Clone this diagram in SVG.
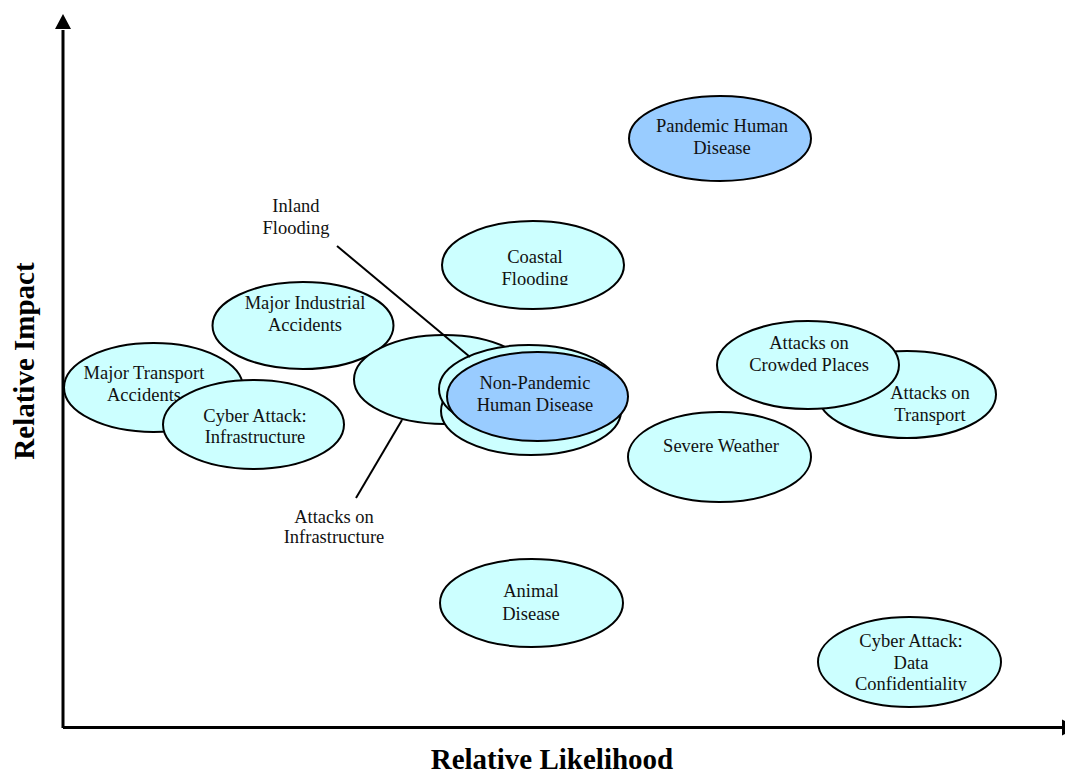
<svg xmlns="http://www.w3.org/2000/svg" width="1065" height="776" viewBox="0 0 1065 776">
<style>
.n{fill:#CCFFFF;stroke:#000;stroke-width:2}
.b{fill:#99CCFF;stroke:#000;stroke-width:2}
.t{font-family:"Liberation Serif","Times New Roman",serif;font-size:18.5px;fill:#111;text-anchor:middle}
.ax{font-family:"Liberation Serif","Times New Roman",serif;font-size:29px;font-weight:bold;fill:#000;text-anchor:middle}
.ln{stroke:#000;stroke-width:2;fill:none}
.axis{stroke:#000;stroke-width:3;fill:none}
</style>
<defs>
<clipPath id="cCoastal"><rect x="400" y="200" width="260" height="85"/></clipPath>
<clipPath id="cConf"><rect x="800" y="600" width="240" height="91"/></clipPath>
</defs>
<rect width="1065" height="776" fill="#fff"/>
<g id="axes">
<line class="axis" x1="63" y1="728" x2="63" y2="30"/>
<path d="M55,29 L63,14 L71,29 Z" fill="#000"/>
<line class="axis" x1="63" y1="727.5" x2="1062" y2="727.5"/>
<path d="M1062,719.5 L1077,727.5 L1062,735.5 Z" fill="#000"/>
<text class="ax" x="552" y="769">Relative Likelihood</text>
<text class="ax" transform="translate(34,361) rotate(-90)">Relative Impact</text>
</g>
<g id="pandemic"><ellipse class="b" cx="720" cy="138.5" rx="91" ry="42.5"/><text class="t" x="722" y="132">Pandemic Human</text><text class="t" x="722" y="154">Disease</text></g>
<g id="coastal"><ellipse class="n" cx="533" cy="265" rx="91" ry="44"/><g clip-path="url(#cCoastal)"><text class="t" x="535" y="263">Coastal</text><text class="t" x="535" y="285">Flooding</text></g></g>
<g id="industrial"><ellipse class="n" cx="303" cy="325.5" rx="90.5" ry="43.5"/><text class="t" x="305" y="309">Major Industrial</text><text class="t" x="305" y="331">Accidents</text></g>
<g id="transport-acc"><ellipse class="n" cx="153.5" cy="387.5" rx="89.5" ry="44.5"/><text class="t" x="144" y="379">Major Transport</text><text class="t" x="144" y="401">Accidents</text></g>
<g id="cyber-infra"><ellipse class="n" cx="253.5" cy="424.5" rx="90.5" ry="44.5"/><text class="t" x="255" y="422">Cyber Attack:</text><text class="t" x="255" y="443">Infrastructure</text></g>
<g id="attacks-infra"><ellipse class="n" cx="444" cy="379.5" rx="90" ry="44.5"/></g>
<g id="lower-cluster"><ellipse class="n" cx="531" cy="411" rx="90" ry="44"/></g>
<g id="inland"><ellipse class="n" cx="529" cy="389" rx="90" ry="44"/></g>
<g id="nonpandemic"><ellipse class="b" cx="537.5" cy="396.5" rx="90.5" ry="44.5"/><text class="t" x="535" y="389">Non-Pandemic</text><text class="t" x="535" y="411">Human Disease</text></g>
<g id="transport"><ellipse class="n" cx="907" cy="394.5" rx="89" ry="43.5"/><text class="t" x="930" y="399">Attacks on</text><text class="t" x="930" y="421">Transport</text></g>
<g id="crowded"><ellipse class="n" cx="808" cy="365" rx="91" ry="44"/><text class="t" x="809" y="349">Attacks on</text><text class="t" x="809" y="371">Crowded Places</text></g>
<g id="weather"><ellipse class="n" cx="719.5" cy="457" rx="91.5" ry="45"/><text class="t" x="721" y="452">Severe Weather</text></g>
<g id="animal"><ellipse class="n" cx="531.5" cy="603" rx="91.5" ry="44"/><text class="t" x="531" y="597">Animal</text><text class="t" x="531" y="620">Disease</text></g>
<g id="cyber-data"><ellipse class="n" cx="909.5" cy="662" rx="91.5" ry="45"/><g clip-path="url(#cConf)"><text class="t" x="911" y="647">Cyber Attack:</text><text class="t" x="911" y="669">Data</text><text class="t" x="911" y="690">Confidentiality</text></g></g>
<g id="label-inland"><text class="t" x="296" y="212">Inland</text><text class="t" x="296" y="234">Flooding</text></g>
<g id="label-attacks-infra"><text class="t" x="334" y="523">Attacks on</text><text class="t" x="334" y="543">Infrastructure</text></g>
<g id="connectors">
<line class="ln" x1="337" y1="246" x2="470" y2="357"/>
<line class="ln" x1="356" y1="498" x2="402" y2="420"/>
</g>
</svg>
